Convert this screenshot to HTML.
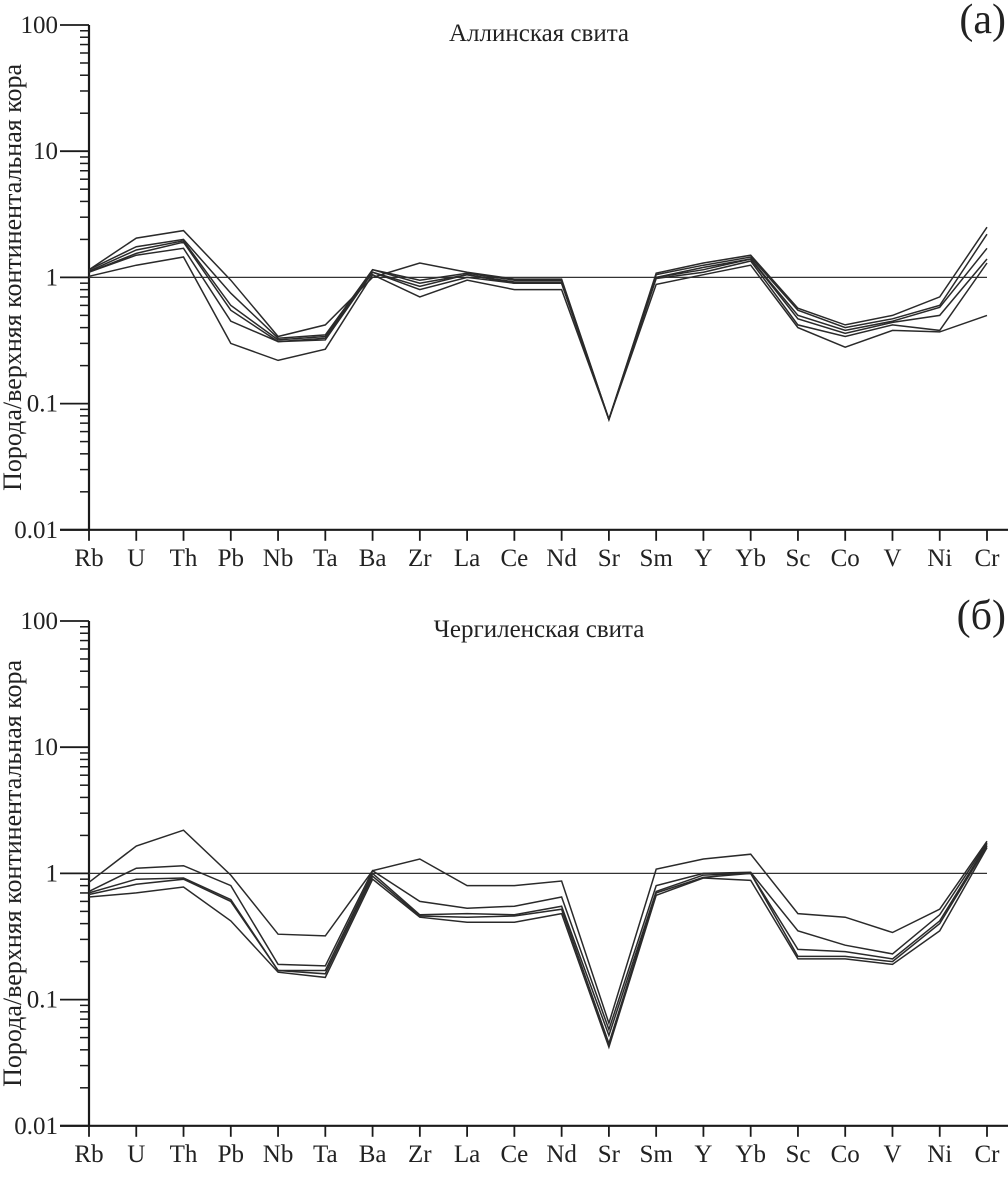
<!DOCTYPE html>
<html><head><meta charset="utf-8"><style>
body{margin:0;background:#fff}
svg text{font-family:"Liberation Serif",serif;fill:#222}
</style></head><body>
<svg id="c" width="1008" height="1185" xmlns="http://www.w3.org/2000/svg"></svg>
<script>
const categories=["Rb","U","Th","Pb","Nb","Ta","Ba","Zr","La","Ce","Nd","Sr","Sm","Y","Yb","Sc","Co","V","Ni","Cr"];
const yTicks=[100,10,1,0.1,0.01];
const yTickLabels=["100","10","1","0.1","0.01"];
const seriesA1=[1.15,2.05,2.35,0.95,0.34,0.42,1.0,1.3,1.1,0.97,0.97,0.075,1.08,1.3,1.5,0.57,0.42,0.5,0.7,2.5];
const seriesA2=[1.15,1.75,2.0,0.75,0.33,0.35,1.15,0.95,1.08,0.95,0.95,0.075,1.05,1.25,1.45,0.55,0.4,0.47,0.6,2.2];
const seriesA3=[1.12,1.65,1.95,0.6,0.32,0.34,1.15,0.9,1.05,0.92,0.92,0.075,1.0,1.2,1.4,0.5,0.38,0.45,0.58,1.7];
const seriesA4=[1.1,1.55,1.9,0.55,0.31,0.33,1.1,0.85,1.05,0.9,0.9,0.075,1.0,1.15,1.4,0.47,0.36,0.44,0.5,1.4];
const seriesA5=[1.1,1.5,1.7,0.45,0.31,0.32,1.1,0.8,1.0,0.9,0.9,0.075,0.98,1.1,1.35,0.42,0.34,0.42,0.38,1.3];
const seriesA6=[1.02,1.25,1.45,0.3,0.22,0.27,1.05,0.7,0.95,0.8,0.8,0.075,0.88,1.05,1.25,0.4,0.28,0.38,0.37,0.5];
const seriesB1=[0.85,1.65,2.2,0.97,0.33,0.32,1.05,1.3,0.8,0.8,0.87,0.065,1.08,1.3,1.42,0.48,0.45,0.34,0.52,1.8];
const seriesB2=[0.72,1.1,1.15,0.8,0.19,0.185,1.05,0.6,0.53,0.55,0.65,0.058,0.8,1.0,1.02,0.35,0.27,0.23,0.47,1.75];
const seriesB3=[0.7,0.9,0.92,0.62,0.17,0.17,1.0,0.47,0.48,0.47,0.55,0.052,0.72,0.97,1.0,0.25,0.24,0.21,0.42,1.7];
const seriesB4=[0.68,0.82,0.9,0.6,0.17,0.16,0.95,0.46,0.45,0.46,0.52,0.045,0.7,0.93,1.0,0.22,0.22,0.2,0.4,1.65];
const seriesB5=[0.65,0.7,0.78,0.42,0.165,0.15,0.9,0.45,0.41,0.41,0.48,0.042,0.67,0.92,0.88,0.21,0.21,0.19,0.35,1.6];
const panels=[
 {title:"Аллинская свита",tag:"(а)",top:25,series:[seriesA1,seriesA2,seriesA3,seriesA4,seriesA5,seriesA6],name:"panel-a"},
 {title:"Чергиленская свита",tag:"(б)",top:621,series:[seriesB1,seriesB2,seriesB3,seriesB4,seriesB5],name:"panel-b"}
];
const NS="http://www.w3.org/2000/svg";
const svg=document.getElementById('c');
function mk(t,a,p){const e=document.createElementNS(NS,t);for(const k in a)e.setAttribute(k,a[k]);p.appendChild(e);return e;}
const X0=89,DX=(987-89)/19,DEC=126.2;
const xs=i=>X0+i*DX;
panels.forEach(P=>{
 const g=mk('g',{},svg);
 
 
 const ys=v=>P.top+(2-Math.log10(v))*DEC;
 const bottom=ys(0.01);
 let e=mk('line',{x1:X0,y1:P.top,x2:X0,y2:bottom,stroke:'#1a1a1a','stroke-width':2.2},g);
 
 e=mk('line',{x1:60,y1:bottom,x2:1008,y2:bottom,stroke:'#1a1a1a','stroke-width':2.2},g);
 
 yTicks.forEach((t,i)=>{
  mk('line',{x1:60,y1:ys(t),x2:X0,y2:ys(t),stroke:'#1a1a1a','stroke-width':1.8},g);
  const tx=mk('text',{x:58,y:ys(t)+8,'text-anchor':'end','font-size':25},g);
  tx.textContent=yTickLabels[i];
  
  if(i<yTicks.length-1){for(let m=2;m<10;m++){const v=t/10*m;mk('line',{x1:80,y1:ys(v),x2:X0,y2:ys(v),stroke:'#1a1a1a','stroke-width':1.5},g);}}
 });
 e=mk('line',{x1:X0,y1:ys(1),x2:987,y2:ys(1),stroke:'#333','stroke-width':1.3},g);
 
 categories.forEach((c,i)=>{
  mk('line',{x1:xs(i),y1:bottom,x2:xs(i),y2:bottom+11,stroke:'#1a1a1a','stroke-width':1.8},g);
  const tx=mk('text',{x:xs(i),y:bottom+36,'text-anchor':'middle','font-size':25},g);
  tx.textContent=c;
  
 });
 P.series.forEach((s,k)=>{
  const d=s.map((v,i)=>(i?'L':'M')+xs(i).toFixed(1)+','+ys(v).toFixed(1)).join(' ');
  const p=mk('path',{d:d,fill:'none',stroke:'#2a2a2a','stroke-width':1.5},g);
  
  
 });
 let tt=mk('text',{x:539,y:P.top+16,'text-anchor':'middle','font-size':25},g);
 tt.textContent=P.title;
 tt=mk('text',{x:1006,y:P.top+8,'text-anchor':'end','font-size':42},g);
 tt.textContent=P.tag;
 const cy=(P.top+bottom)/2;
 tt=mk('text',{x:0,y:0,'text-anchor':'middle','font-size':26,transform:`translate(21,${cy}) rotate(-90)`},g);
 tt.textContent="Порода/верхняя континентальная кора";
});
</script>
</body></html>
